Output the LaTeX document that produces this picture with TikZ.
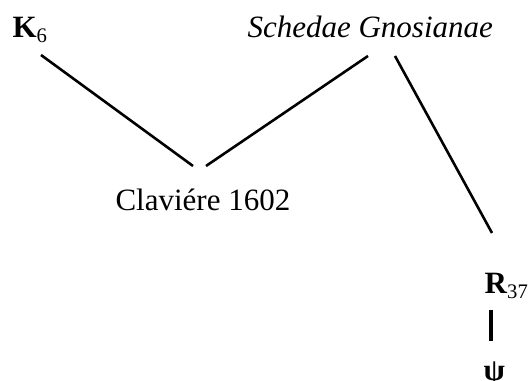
\documentclass[tikz,border=0pt]{standalone}
\usepackage{fontspec}
\setmainfont{Liberation Serif}

\tikzset{
    witness/.style={inner sep=0pt, anchor=base west, font=\fontsize{12}{14}\selectfont},
    stemma/.style={line width=1pt, black}
}

\begin{document}
\begin{tikzpicture}[x=0.387pt, y=-0.387pt]
            \useasboundingbox (0,0) rectangle (528,381);

            % Sources at the top
            \node[witness] (k6) at (12,38) {\textbf{K}\textsubscript{6}};
            \node[witness] (sched) at (247,38) {\textit{Schedae Gnosianae}};

            % Edition and later copies
            \node[witness] (clav) at (115,211) {Claviére 1602};
            \node[witness] (r37) at (484,294) {\textbf{R}\textsubscript{37}};
            \node[witness, anchor=north west] (psi) at (483,361) {\textbf{ψ}};

            % Lines of descent
            \draw[stemma] ([shift={(29,17)}]k6.base west) -- ([shift={(78,-45)}]clav.base west);
            \draw[stemma] ([shift={(121,18)}]sched.base west) -- ([shift={(91,-45)}]clav.base west);
            \draw[stemma] ([shift={(148,18)}]sched.base west) -- ([shift={(8,-61)}]r37.base west);
            \draw[stemma, line width=1.3pt] ([shift={(7,16)}]r37.base west) -- ([shift={(8,-20)}]psi.north west);
        \end{tikzpicture}
\end{document}
